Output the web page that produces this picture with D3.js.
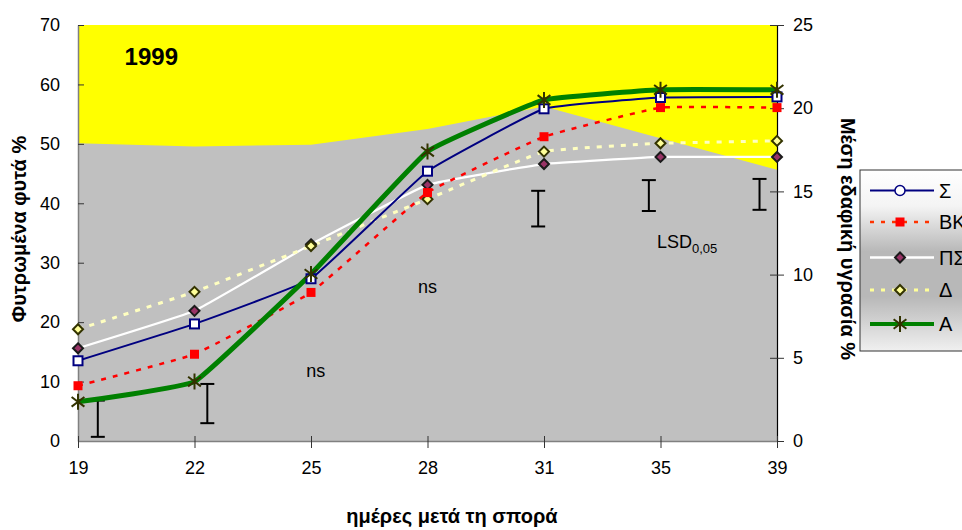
<!DOCTYPE html>
<html><head><meta charset="utf-8">
<script src="https://cdn.jsdelivr.net/npm/d3@7"></script>
<style>body{margin:0;background:#fff}svg{display:block;font-family:Arial,"Liberation Sans",sans-serif}</style>
</head><body>
<svg id="c" width="962" height="530"></svg>
<script>
const days = ["19","22","25","28","31","35","39"];
const leftTicks = [0,10,20,30,40,50,60,70];
const rightTicks = [0,5,10,15,20,25];
const moisture = [17.9, 17.7, 17.8, 18.75, 20.1, 18.2, 16.3];
const sSigma = [13.5, 19.7, 27.3, 45.4, 55.9, 57.8, 57.9];
const sBK    = [9.3, 14.6, 25.0, 41.8, 51.2, 56.1, 56.1];
const sPS    = [15.6, 21.9, 33.1, 43.1, 46.6, 47.8, 47.8];
const sDelta = [18.8, 25.1, 32.8, 40.7, 48.7, 50.1, 50.5];
const sA     = [6.6, 10.0, 28.1, 48.7, 57.4, 59.1, 59.1];
const lsdPos  = [0.17, 1.11, 3.95, 4.9, 5.85];
const lsdLow  = [0.7, 3.0, 36.1, 38.7, 38.9];
const lsdHigh = [6.8, 9.6, 42.1, 43.9, 44.1];
const seriesNames = ["Σ","ΒΚ","ΠΣ","Δ","Α"];

const svg = d3.select("#c");
const L=78, R=777, T=25, B=441;
const x = d3.scaleLinear().domain([0, days.length-1]).range([L, R]);
const y = d3.scaleLinear().domain([0,70]).range([B, T]);
const y2 = d3.scaleLinear().domain([0,25]).range([B, T]);

svg.append("rect").attr("x",L).attr("y",T).attr("width",R-L).attr("height",B-T).attr("fill","#ffff00");
svg.append("path").datum(moisture)
  .attr("d", d3.area().x((d,i)=>x(i)).y0(B).y1(d=>y2(d)))
  .attr("fill","#c0c0c0");

const fs = "18px";
const gl = svg.append("g").attr("transform",`translate(${L},0)`)
  .call(d3.axisLeft(y).tickValues(leftTicks).tickSizeInner(6).tickSizeOuter(0).tickPadding(12));
gl.selectAll(".tick line").attr("x2",6);
const gr = svg.append("g").attr("transform",`translate(${R},0)`)
  .call(d3.axisRight(y2).tickValues(rightTicks).tickSizeInner(7).tickSizeOuter(0).tickPadding(9));
gr.selectAll(".tick line").attr("x1",-7);
const gb = svg.append("g").attr("transform",`translate(0,${B})`)
  .call(d3.axisBottom(x).tickValues(d3.range(days.length)).tickFormat(i=>days[i]).tickSizeInner(7).tickSizeOuter(0).tickPadding(13));
gb.selectAll(".tick line").attr("y1",-5);
[gl,gr,gb].forEach(g=>{g.selectAll("text").attr("font-size",fs).attr("font-family","Arial,'Liberation Sans',sans-serif").attr("fill","#000");});
gl.select(".domain").attr("stroke","#808080").attr("stroke-width",1.5);
gb.select(".domain").attr("stroke","#808080").attr("stroke-width",1.5);
gr.select(".domain").attr("stroke","#000").attr("stroke-width",1.2);
[gl,gb,gr].forEach(g=>g.selectAll(".tick line").attr("stroke","#333"));

const eb = svg.append("g").attr("stroke","#000").attr("stroke-width",2);
lsdPos.forEach((p,i)=>{
  const cx=x(p), y1=y(lsdLow[i]), y0=y(lsdHigh[i]);
  eb.append("line").attr("x1",cx).attr("x2",cx).attr("y1",y0).attr("y2",y1);
  eb.append("line").attr("x1",cx-7).attr("x2",cx+7).attr("y1",y0).attr("y2",y0);
  eb.append("line").attr("x1",cx-7).attr("x2",cx+7).attr("y1",y1).attr("y2",y1);
});

const line = d3.line().x((d,i)=>x(i)).y(d=>y(d)).curve(d3.curveCardinal.tension(0.72));

const specs = [
  {data:sPS, stroke:"#ffffff", w:2.2, dash:null, marker:"diamondPS"},
  {data:sDelta, stroke:"#ffffc0", w:3, dash:"5,7", marker:"diamondD"},
  {data:sBK, stroke:"#ff0000", w:2.5, dash:"5,7", marker:"squareRed"},
  {data:sSigma, stroke:"#000080", w:2, dash:null, marker:"squareOpen"},
  {data:sA, stroke:"#008000", w:5, dash:null, marker:"star"},
];

function drawMarker(g, type, cx, cy){
  if(type==="squareOpen"){
    g.append("rect").attr("x",cx-4.5).attr("y",cy-4.5).attr("width",9).attr("height",9)
      .attr("fill","#fff").attr("stroke","#000080").attr("stroke-width",2);
  } else if(type==="squareRed"){
    g.append("rect").attr("x",cx-4.5).attr("y",cy-4.5).attr("width",9).attr("height",9)
      .attr("fill","#ff0000");
  } else if(type==="diamondPS"){
    g.append("path").attr("d",`M${cx},${cy-5}L${cx+5},${cy}L${cx},${cy+5}L${cx-5},${cy}Z`)
      .attr("fill","#993366").attr("stroke","#1a1a1a").attr("stroke-width",2);
  } else if(type==="diamondD"){
    g.append("path").attr("d",`M${cx},${cy-5}L${cx+5},${cy}L${cx},${cy+5}L${cx-5},${cy}Z`)
      .attr("fill","#ffff99").attr("stroke","#333300").attr("stroke-width",2);
  } else if(type==="star"){
    const r=8, d=r*0.8;
    g.append("path").attr("d",`M${cx},${cy-r}L${cx},${cy+r}M${cx-d},${cy-d*0.75}L${cx+d},${cy+d*0.75}M${cx-d},${cy+d*0.75}L${cx+d},${cy-d*0.75}`)
      .attr("stroke","#333300").attr("stroke-width",2).attr("fill","none");
  }
}

specs.forEach(s=>{
  svg.append("path").datum(s.data).attr("d",line).attr("fill","none")
    .attr("stroke",s.stroke).attr("stroke-width",s.w).attr("stroke-dasharray",s.dash);
});
specs.forEach(s=>{
  const g=svg.append("g");
  s.data.forEach((d,i)=>drawMarker(g,s.marker,x(i),y(d)));
});

svg.append("text").attr("x",x(0.4)).attr("y",y(63.2)).attr("font-size","24px").attr("font-weight","bold").text("1999");
svg.append("text").attr("x",x(2.04)).attr("y",y(10.8)).attr("font-size","18px").attr("text-anchor","middle").text("ns");
svg.append("text").attr("x",x(3)).attr("y",y(24.9)).attr("font-size","18px").attr("text-anchor","middle").text("ns");
const lsd = svg.append("text").attr("x",x(4.97)).attr("y",y(32.5)).attr("font-size","18px");
lsd.append("tspan").text("LSD");
lsd.append("tspan").attr("font-size","13px").attr("dy",5).text("0,05");

svg.append("text").attr("transform",`translate(26,229) rotate(-90)`).attr("text-anchor","middle")
  .attr("font-size","20px").attr("font-weight","bold").text("Φυτρωμένα φυτά %");
svg.append("text").attr("transform",`translate(841,239) rotate(90)`).attr("text-anchor","middle")
  .attr("font-size","20px").attr("font-weight","bold").text("Μέση εδαφική υγρασία %");
svg.append("text").attr("x",452).attr("y",523).attr("text-anchor","middle")
  .attr("font-size","20px").attr("font-weight","bold").text("ημέρες μετά τη σπορά");

const defs = svg.append("defs");
const lg = defs.append("linearGradient").attr("id","lg").attr("x1",0).attr("y1",0).attr("x2",0).attr("y2",1);
[[0,"#ffffff"],[0.2,"#f4f4f4"],[0.45,"#b8b8b8"],[0.7,"#b8b8b8"],[1,"#f0f0f0"]].forEach(([o,c])=>lg.append("stop").attr("offset",o).attr("stop-color",c));
svg.append("rect").attr("x",860).attr("y",170).attr("width",120).attr("height",181)
  .attr("fill","url(#lg)").attr("stroke","#333").attr("stroke-width",1);
const legSpecs = [
  {name:seriesNames[0], stroke:"#000080", w:2, dash:null, marker:"circleLeg"},
  {name:seriesNames[1], stroke:"#ff3300", w:2.5, dash:"4,7", marker:"squareRed"},
  {name:seriesNames[2], stroke:"#ffffff", w:2.5, dash:null, marker:"diamondPS"},
  {name:seriesNames[3], stroke:"#ffff99", w:3, dash:"4,7", marker:"diamondD"},
  {name:seriesNames[4], stroke:"#008000", w:4, dash:null, marker:"star"},
];
const legY = [190.5, 222, 257.5, 290, 324];
legSpecs.forEach((s,i)=>{
  const ly=legY[i];
  svg.append("line").attr("x1",870).attr("x2",934).attr("y1",ly).attr("y2",ly)
    .attr("stroke",s.stroke).attr("stroke-width",s.w).attr("stroke-dasharray",s.dash);
  const g=svg.append("g");
  if(s.marker==="circleLeg"){
    g.append("circle").attr("cx",900).attr("cy",ly).attr("r",5).attr("fill","#fff").attr("stroke","#000080").attr("stroke-width",1.5);
  } else drawMarker(g,s.marker,900,ly);
  svg.append("text").attr("x",939).attr("y",ly+7).attr("font-size","20px").text(s.name);
});
</script>
</body></html>
